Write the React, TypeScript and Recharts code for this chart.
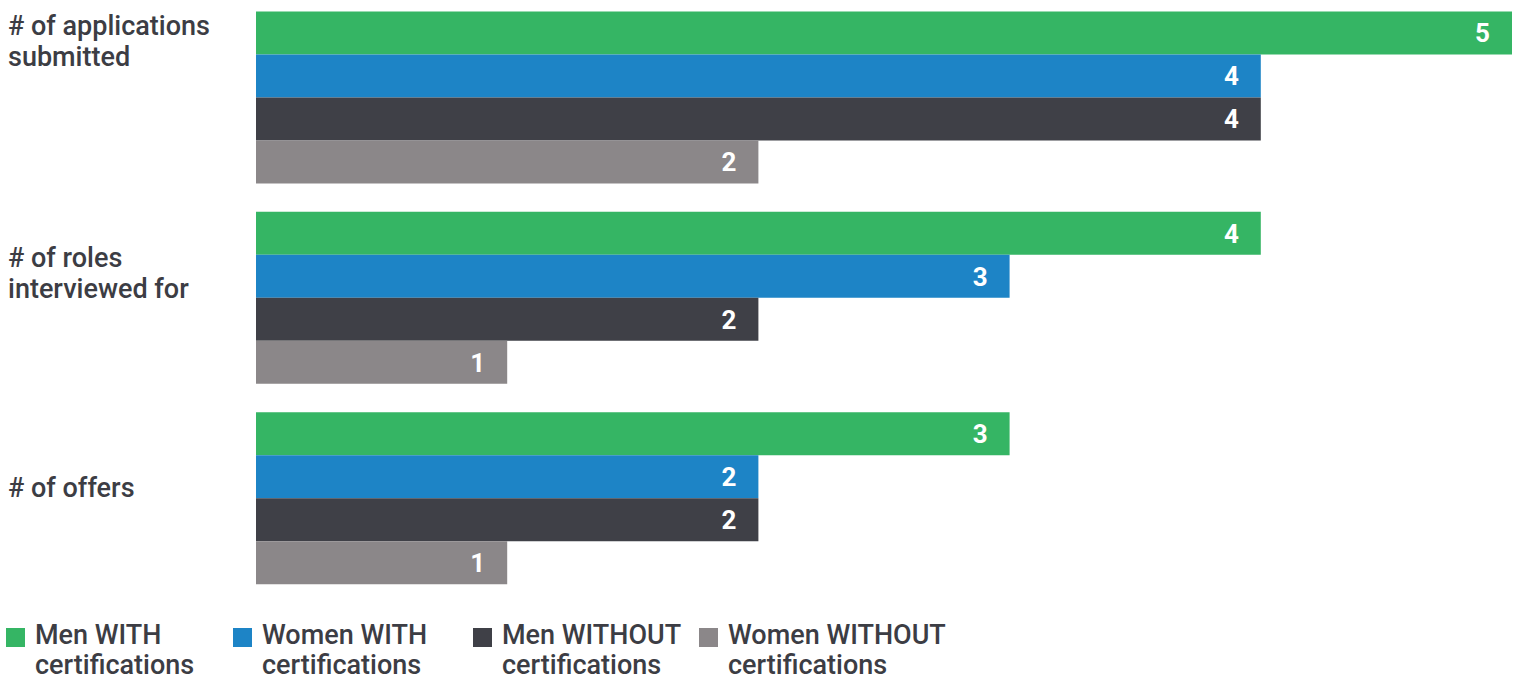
import React from 'react';
import { BarChart, Bar, XAxis, YAxis, LabelList, Legend } from 'recharts';

const categories = ['# of applications submitted', '# of roles interviewed for', '# of offers'];
const categoryLines = [['# of applications', 'submitted'], ['# of roles', 'interviewed for'], ['# of offers']];

const menWith = [5, 4, 3];
const womenWith = [4, 3, 2];
const menWithout = [4, 2, 2];
const womenWithout = [2, 1, 1];

const seriesNames = ['Men WITH certifications', 'Women WITH certifications', 'Men WITHOUT certifications', 'Women WITHOUT certifications'];
const legendLines = [
    ['Men WITH', 'certifications'],
    ['Women WITH', 'certifications'],
    ['Men WITHOUT', 'certifications'],
    ['Women WITHOUT', 'certifications'],
];
const colors = ['#35B564', '#1D84C6', '#3F4047', '#8B8789'];

const data = categories.map((c, i) => ({
    category: c,
    menWith: menWith[i],
    womenWith: womenWith[i],
    menWithout: menWithout[i],
    womenWithout: womenWithout[i],
}));
const keys = ['menWith', 'womenWith', 'menWithout', 'womenWithout'];

const textColor = '#3C3D44';
const font = 'Roboto, sans-serif';

// baseline of the first line relative to the band centre
const firstLineShift = [-63, -32, -2];

function CategoryTick(props: any) {
    const { y, payload, index } = props;
    const lines = categoryLines[index] || [payload.value];
    return (
        <text x={8} y={y + firstLineShift[index]} fill={textColor} fontFamily={font} fontSize={27} fontWeight={500} textAnchor="start">
            {lines.map((l, i) => (
                <tspan key={i} x={8} dy={i === 0 ? 0 : 31}>{l}</tspan>
            ))}
        </text>
    );
}

const legendLefts = [6, 233, 473, 699];

function LegendContent() {
    return (
        <div style={{ position: 'relative', width: 1516, height: 79, fontFamily: font }}>
            {seriesNames.map((name, i) => (
                <div key={name} style={{ position: 'absolute', left: legendLefts[i], top: 0 }}>
                    <div style={{ position: 'absolute', left: 0, top: 29, width: 19, height: 19, background: colors[i] }} />
                    <div style={{ position: 'absolute', left: 29, top: 21, fontSize: 27, lineHeight: '30px', fontWeight: 500, color: textColor, whiteSpace: 'nowrap', textAlign: 'left' }}>
                        {legendLines[i][0]}<br />{legendLines[i][1]}
                    </div>
                </div>
            ))}
        </div>
    );
}

export default function App() {
    return (
        <div style={{ position: 'absolute', left: 0, top: 0, width: 1516, height: 678, background: '#fff' }}>
            <BarChart
                width={1516}
                height={678}
                data={data}
                layout="vertical"
                barGap={0}
                barCategoryGap={13.5}
                margin={{ top: -2, right: 4, left: 0, bottom: 0 }}
            >
                <XAxis type="number" domain={[0, 5]} hide />
                <YAxis type="category" dataKey="category" width={256} axisLine={false} tickLine={false} tick={<CategoryTick />} interval={0} />
                <Legend verticalAlign="bottom" align="left" content={<LegendContent />} wrapperStyle={{ height: 79, width: 1516, left: 0 }} />
                {keys.map((k, i) => (
                    <Bar key={k} dataKey={k} name={seriesNames[i]} fill={colors[i]} isAnimationActive={false}>
                        <LabelList dataKey={k} position="insideRight" offset={22} fill="#fff" fontFamily={font} fontSize={26} fontWeight={700} />
                    </Bar>
                ))}
            </BarChart>
        </div>
    );
}
